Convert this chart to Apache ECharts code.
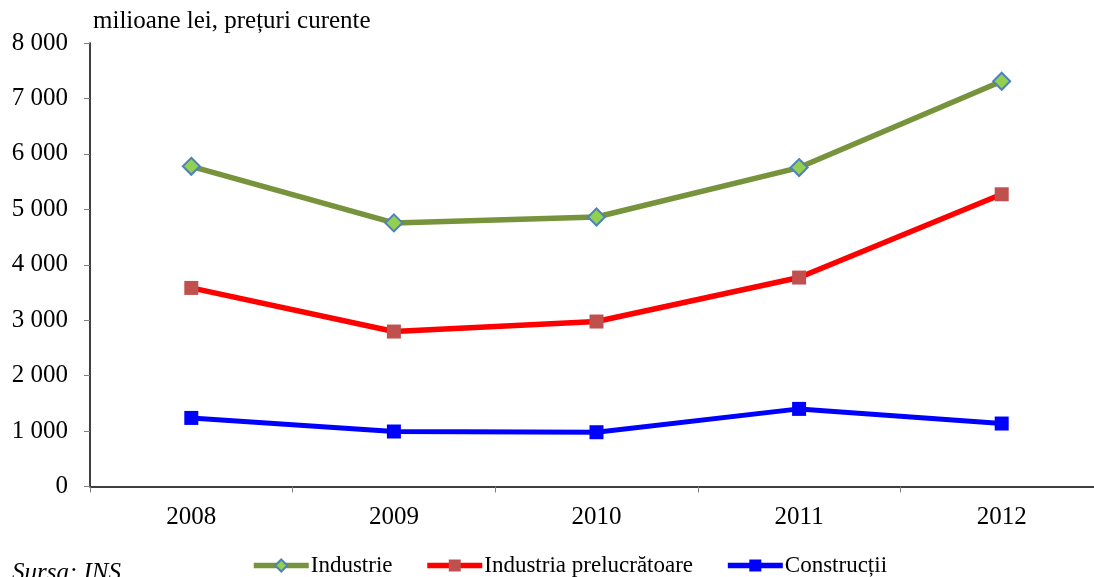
<!DOCTYPE html>
<html>
<head>
<meta charset="utf-8">
<script src="https://cdn.jsdelivr.net/npm/echarts@6/dist/echarts.min.js"></script>
<style>
html,body{margin:0;padding:0;background:#fff;}
#chart{width:1094px;height:577px;}
</style>
</head>
<body>
<div id="chart"></div>
<script>
const years = ['2008','2009','2010','2011','2012'];
const industrie = [5776, 4755, 4862, 5753, 7310];
const prelucratoare = [3582, 2795, 2976, 3769, 5271];
const constructii = [1237, 992, 979, 1400, 1136];
const unitLabel = 'milioane lei, prețuri curente';
const sourceLabel = 'Sursa: INS';
const seriesNames = ['Industrie', 'Industria prelucrătoare', 'Construcții'];

const FONT = '"Liberation Serif", "Times New Roman", serif';
const FS = 25;
const chart = echarts.init(document.getElementById('chart'), null, {renderer: 'canvas'});

function fmt(v) {
  return String(v).replace(/\B(?=(\d{3})+(?!\d))/g, ' ');
}

chart.setOption({
  animation: false,
  backgroundColor: '#fff',
  title: [{
    text: unitLabel,
    left: 88, top: 4,
    textStyle: {fontFamily: FONT, fontSize: FS, fontWeight: 'normal', color: '#000'}
  }, {
    text: sourceLabel,
    left: 7, top: 556,
    textStyle: {fontFamily: FONT, fontSize: FS, fontWeight: 'normal', fontStyle: 'italic', color: '#000'}
  }],
  legend: {
    data: [
      {name: seriesNames[0], lineStyle: {width: 5.5}},
      {name: seriesNames[1], lineStyle: {width: 5.5}},
      {name: seriesNames[2], lineStyle: {width: 5.5}}
    ],
    left: 251, top: 554, padding: 0,
    itemWidth: 55, itemHeight: 15, itemGap: 32,
    textStyle: {fontFamily: FONT, fontSize: 23, color: '#000', padding: [0,0,0,-3]}
  },
  grid: {left: 90, top: 43, right: -9, bottom: 90.5, containLabel: false, outerBoundsMode: 'none'},
  xAxis: {
    type: 'category',
    data: years,
    boundaryGap: true,
    axisLine: {lineStyle: {color: '#000', width: 1.5}},
    axisTick: {show: true, length: 6, lineStyle: {color: '#808080'}},
    axisLabel: {fontFamily: FONT, fontSize: FS, color: '#000', margin: 18}
  },
  yAxis: {
    type: 'value',
    min: 0, max: 8000, interval: 1000,
    axisLine: {show: true, lineStyle: {color: '#000', width: 1.5}},
    axisTick: {show: true, length: 6, lineStyle: {color: '#808080'}},
    splitLine: {show: false},
    axisLabel: {fontFamily: FONT, fontSize: FS, color: '#000', margin: 22, formatter: fmt}
  },
  series: [{
    name: seriesNames[0], type: 'line', data: industrie,
    symbol: 'diamond', symbolSize: 17,
    lineStyle: {color: '#77933C', width: 5.5},
    itemStyle: {color: '#92D050', borderColor: '#4F81BD', borderWidth: 2},
    z: 3
  }, {
    name: seriesNames[1], type: 'line', data: prelucratoare,
    symbol: 'rect', symbolSize: 14,
    lineStyle: {color: '#FF0000', width: 5.5},
    itemStyle: {color: '#C0504D', borderColor: '#C0504D', borderWidth: 0},
    z: 2
  }, {
    name: seriesNames[2], type: 'line', data: constructii,
    symbol: 'rect', symbolSize: 14,
    lineStyle: {color: '#0000FF', width: 5},
    itemStyle: {color: '#0000FF', borderWidth: 0},
    z: 1
  }]
});
</script>
</body>
</html>
